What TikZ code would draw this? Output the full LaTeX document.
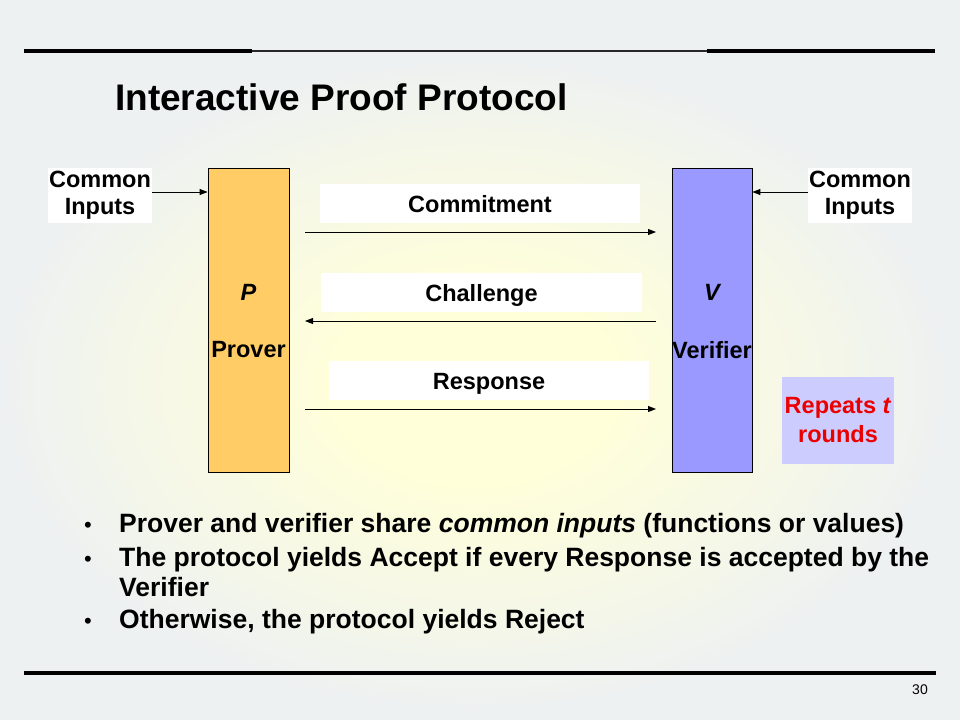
\documentclass[tikz,border=0pt]{standalone}
\usepackage{fontspec}
\setmainfont{Liberation Sans}
\usetikzlibrary{arrows.meta,calc}
\definecolor{bggray}{RGB}{238,241,241}
\definecolor{glowin}{RGB}{255,255,218}
\definecolor{proverfill}{RGB}{255,204,102}
\definecolor{verfill}{RGB}{153,153,255}
\definecolor{repfill}{RGB}{204,204,255}
\definecolor{repred}{RGB}{235,0,0}
\definecolor{lineGray}{RGB}{40,40,40}
\newcommand\lblfont{\fontsize{23.5}{28}\selectfont\bfseries}
\newcommand\bulfont{\fontsize{26.5}{30}\selectfont\bfseries}
\begin{document}
\begin{tikzpicture}[x=1pt,y=-1pt,
  party/.style={draw=black, line width=0.8pt, minimum width=81pt, minimum height=304pt, inner sep=0pt},
  msgbox/.style={fill=white, inner sep=0pt, minimum height=39pt, font=\lblfont, text height=17pt, text depth=0pt},
  inbox/.style={fill=white, inner sep=0pt, minimum width=104pt, minimum height=55pt, align=center, font=\lblfont},
  lbl/.style={font=\lblfont, inner sep=0pt},
  arr/.style={-{Triangle[length=8pt,width=6pt]}, line width=0.9pt},
  bul/.style={font=\bulfont, inner sep=0pt, anchor=base west},
  dot/.style={font=\fontsize{22}{24}\selectfont, inner sep=0pt, anchor=base west},
]
\begin{scope}
\clip (0,0) rectangle (960,720);
\fill[bggray] (0,0) rectangle (960,720);
\foreach \i in {1,...,40}{
  \pgfmathsetmacro\rr{1-(\i-1)/40}
  \pgfmathtruncatemacro\pp{min(100,\i*100/28)}
  \fill[glowin!\pp!bggray] (475,385) ellipse [x radius=465*\rr, y radius=320*\rr];
}
\end{scope}
\useasboundingbox (0,0) rectangle (960,720);

% rules
\draw[line width=3.5pt] (24,51) -- (252,51);
\draw[line width=2.6pt,lineGray] (252,51) -- (707,51);
\draw[line width=3.2pt] (707,51) -- (935,51);
\draw[line width=3.5pt] (24,673) -- (936,673);

% title
\node[font=\fontsize{37}{40}\selectfont\bfseries, inner sep=0pt, anchor=base west] (title) at (115,110) {Interactive Proof Protocol};

% parties
\node[party, fill=proverfill] (P) at (248.5,320) {};
\node[party, fill=verfill, minimum width=80pt] (V) at (712,320) {};
\node[lbl] (Pl) at (248.5,292) {\itshape P};
\node[lbl] (Pn) at (248.5,350) {Prover};
\node[lbl] (Vl) at (712,292) {\itshape V};
\node[lbl] (Vn) at (712,350) {Verifier};

% common inputs
\node[inbox] (ciL) at (100,195.5) {\raisebox{-2pt}{Common}\\[-1pt]\raisebox{-2pt}{Inputs}};
\node[inbox] (ciR) at (860,195.5) {\raisebox{-2pt}{Common}\\[-1pt]\raisebox{-2pt}{Inputs}};
\draw[arr] (ciL.east |- 0,192) -- (P.west |- 0,192);
\draw[arr] (ciR.west |- 0,192) -- (V.east |- 0,192);

% messages
\node[msgbox, minimum width=320pt] (mC) at (480,203.5) {Commitment};
\node[msgbox, minimum width=321pt] (mH) at (481.5,292.5) {Challenge};
\node[msgbox, minimum width=320pt] (mR) at (489,380.5) {Response};
\coordinate (c1a) at (305,232); \coordinate (c1b) at (656,232);
\coordinate (c2a) at (656,321); \coordinate (c2b) at (305,321);
\coordinate (c3a) at (305,409); \coordinate (c3b) at (656,409);
\draw[arr] (c1a) -- (c1b);
\draw[arr] (c2a) -- (c2b);
\draw[arr] (c3a) -- (c3b);

% repeats
\node[fill=repfill, inner sep=0pt, minimum width=112pt, minimum height=87pt, align=center, font=\fontsize{23.5}{29}\selectfont\bfseries, text=repred] (rep) at (838,420.5) {Repeats \textit{t}\\rounds};

% bullets
\node[dot] (d1) at (84,532) {•};
\node[bul] (b1) at (119,532) {Prover and verifier share \textit{common inputs} (functions or values)};
\node[dot] (d2) at (84,566) {•};
\node[bul] (b2) at (119,566) {The protocol yields Accept if every Response is accepted by the};
\node[bul] (b2b) at (119,596) {Verifier};
\node[dot] (d3) at (84,628) {•};
\node[bul] (b3) at (119,628) {Otherwise, the protocol yields Reject};

% page number
\node[font=\fontsize{14}{16}\selectfont, inner sep=0pt, anchor=base east] (pg) at (928,694) {30};
\end{tikzpicture}
\end{document}
